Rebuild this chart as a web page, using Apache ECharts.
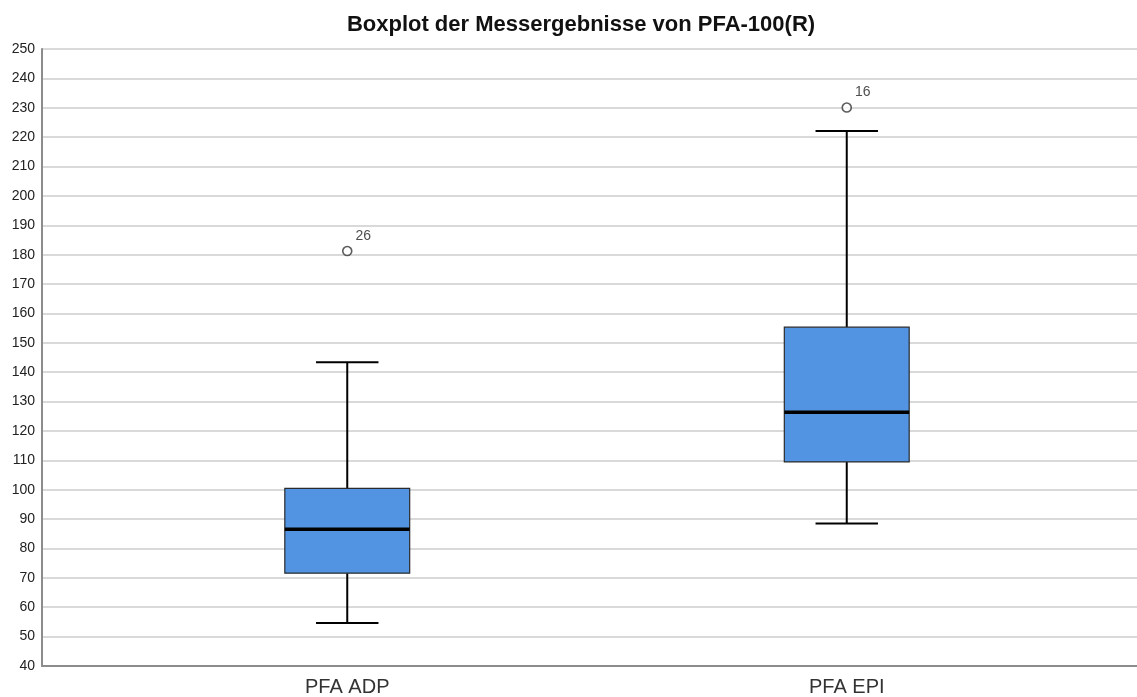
<!DOCTYPE html>
<html>
<head>
<meta charset="utf-8">
<script src="https://cdn.jsdelivr.net/npm/echarts@6/dist/echarts.min.js"></script>
<style>html,body{margin:0;padding:0;background:#fff;}#c{width:1137px;height:697px;}</style>
</head>
<body>
<div id="c"></div>
<script>
var titleText = 'Boxplot der Messergebnisse von PFA-100(R)';
var categories = ['PFA ADP', 'PFA EPI'];
// [min, Q1, median, Q3, max]
var boxADP = [54, 71, 86, 100, 143];
var boxEPI = [88, 109, 126, 155, 222];
var outlierValues = [181, 230];
var outlierCategory = [0, 1];
var outlierIds = ['26', '16'];
var yTicks = {min: 40, max: 250, interval: 10};

var boxes = [boxADP, boxEPI];
var boxData = boxes.map(function (b, i) { return [i].concat(b); });
var outData = outlierValues.map(function (v, i) { return [outlierCategory[i], v, outlierIds[i]]; });

var font = 'Liberation Sans, Arial, sans-serif';
var chart = echarts.init(document.getElementById('c'), null, {renderer: 'canvas'});
chart.setOption({
  animation: false,
  backgroundColor: '#fff',
  title: {
    text: titleText, left: 576, top: 9, textAlign: 'center',
    textStyle: {fontFamily: font, fontSize: 22, fontWeight: 'bold', color: '#111'}
  },
  grid: [
    {left: 42, right: 0, top: 49, bottom: 31},
    {left: 97.5, right: 40.5, top: 49, bottom: 31}
  ],
  xAxis: [
    {type: 'value', gridIndex: 0, min: 0, max: 1, axisLabel: {show: false}, axisTick: {show: false},
     splitLine: {show: false}, axisLine: {show: true, lineStyle: {color: '#8c8c8c', width: 2}}},
    {type: 'category', gridIndex: 1, data: categories, axisLine: {show: false}, axisTick: {show: false},
     axisLabel: {fontFamily: font, fontSize: 20, color: '#333', margin: 13}}
  ],
  yAxis: [
    {type: 'value', gridIndex: 0, min: yTicks.min, max: yTicks.max, interval: yTicks.interval,
     axisLine: {show: true, lineStyle: {color: '#8c8c8c', width: 2}}, axisTick: {show: false},
     axisLabel: {fontFamily: font, fontSize: 14, color: '#222', margin: 7, padding: [3, 0, 0, 0]},
     splitLine: {show: true, lineStyle: {color: '#cccccc', width: 1.5}}},
    {type: 'value', gridIndex: 1, min: yTicks.min, max: yTicks.max, interval: yTicks.interval,
     show: false, splitLine: {show: false}}
  ],
  series: [
    {
      type: 'custom', xAxisIndex: 1, yAxisIndex: 1, data: boxData,
      renderItem: function (params, api) {
        var idx = api.value(0);
        var pMin = api.coord([idx, api.value(1)]);
        var pQ1 = api.coord([idx, api.value(2)]);
        var pMed = api.coord([idx, api.value(3)]);
        var pQ3 = api.coord([idx, api.value(4)]);
        var pMax = api.coord([idx, api.value(5)]);
        var band = api.size([1, 0])[0];
        var bw = band * 0.25, cw = bw / 2;
        var x = pMed[0];
        var black = {stroke: '#000', lineWidth: 2};
        return {
          type: 'group',
          children: [
            {type: 'line', shape: {x1: x, y1: pMax[1], x2: x, y2: pQ3[1]}, style: black},
            {type: 'line', shape: {x1: x, y1: pQ1[1], x2: x, y2: pMin[1]}, style: black},
            {type: 'line', shape: {x1: x - cw / 2, y1: pMax[1], x2: x + cw / 2, y2: pMax[1]}, style: black},
            {type: 'line', shape: {x1: x - cw / 2, y1: pMin[1], x2: x + cw / 2, y2: pMin[1]}, style: black},
            {type: 'rect', shape: {x: x - bw / 2, y: pQ3[1], width: bw, height: pQ1[1] - pQ3[1]},
             style: {fill: '#5294e2', stroke: '#2b2b2b', lineWidth: 1.2}},
            {type: 'line', shape: {x1: x - bw / 2, y1: pMed[1], x2: x + bw / 2, y2: pMed[1]},
             style: {stroke: '#000', lineWidth: 3.5}}
          ]
        };
      }
    },
    {
      type: 'scatter', xAxisIndex: 1, yAxisIndex: 1, data: outData,
      symbol: 'circle', symbolSize: 9,
      itemStyle: {color: '#fff', borderColor: '#333', borderWidth: 1.6},
      label: {show: true, position: 'right', offset: [-2, -15], fontFamily: font, fontSize: 14, color: '#222',
        formatter: function (p) { return p.data[2]; }}
    }
  ]
});
</script>
</body>
</html>
